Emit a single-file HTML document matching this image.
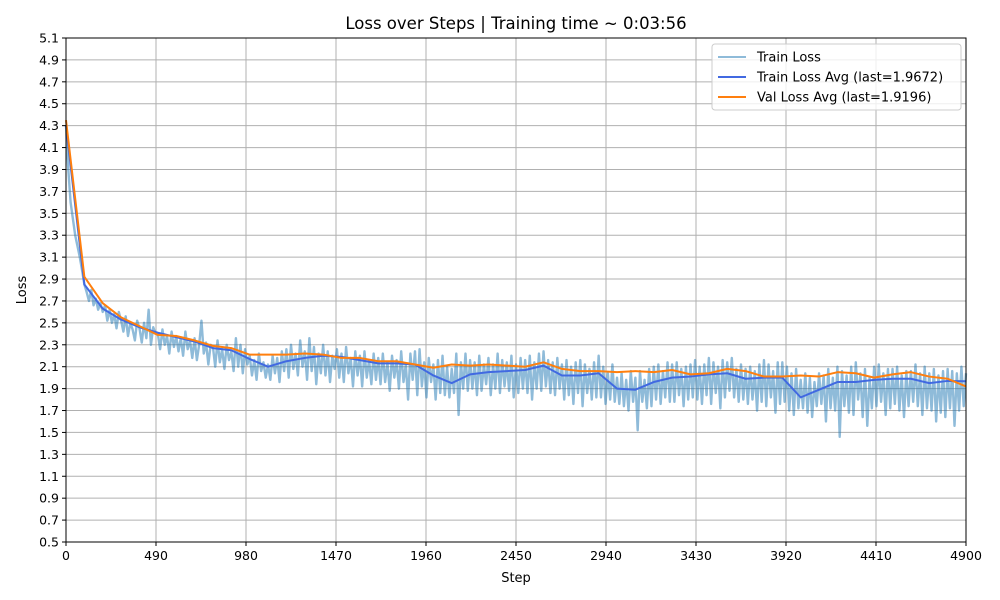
<!DOCTYPE html>
<html><head><meta charset="utf-8"><style>
body{margin:0;background:#fff;}
svg{display:block;font-family:"DejaVu Sans","Liberation Sans",sans-serif;}
</style></head><body>
<svg id="chart" width="1000" height="600" viewBox="0 0 1000 600">
<rect width="1000" height="600" fill="#fff"/>
<text x="516" y="29" font-size="16.5" text-anchor="middle">Loss over Steps | Training time ~ 0:03:56</text>
<g id="grid"></g><g id="series"></g><g id="axes"></g>
<text x="516" y="582" font-size="13" text-anchor="middle">Step</text>
<text x="26" y="290" font-size="13" text-anchor="middle" transform="rotate(-90 26 290)">Loss</text>
<g>
<rect x="712" y="44" width="249" height="66" rx="3" fill="#fff" fill-opacity="0.8" stroke="#ccc"/>
<g><line x1="718" y1="57" x2="746" y2="57" stroke="#1f77b4" stroke-opacity="0.5" stroke-width="2"/><text x="757" y="61.5" font-size="13">Train Loss</text></g>
<g><line x1="718" y1="77" x2="746" y2="77" stroke="#4169e1" stroke-width="2"/><text x="757" y="81.5" font-size="13">Train Loss Avg (last=1.9672)</text></g>
<g><line x1="718" y1="97" x2="746" y2="97" stroke="#ff7f0e" stroke-width="2"/><text x="757" y="101.5" font-size="13">Val Loss Avg (last=1.9196)</text></g>
</g>
</svg>
<script>
const trainStep = 12.5;
const trainLoss = [4.30,3.90,3.60,3.45,3.30,3.20,3.10,2.98,
2.85,2.78,2.70,2.80,2.66,2.72,2.62,2.68,
2.60,2.66,2.52,2.62,2.50,2.58,2.45,2.60,
2.52,2.42,2.56,2.38,2.50,2.44,2.34,2.52,
2.45,2.32,2.50,2.36,2.62,2.30,2.46,2.40,
2.40,2.26,2.44,2.30,2.38,2.22,2.42,2.28,
2.38,2.24,2.36,2.20,2.42,2.26,2.34,2.18,
2.36,2.16,2.30,2.52,2.22,2.32,2.12,2.30,
2.28,2.10,2.34,2.14,2.26,2.08,2.30,2.16,
2.24,2.06,2.36,2.10,2.30,2.04,2.26,2.12,
2.20,2.02,2.16,1.98,2.22,2.06,2.14,2.00,
2.12,1.98,2.20,2.04,2.18,1.96,2.24,2.06,
2.26,2.00,2.30,2.08,2.22,2.02,2.34,2.10,
2.24,1.98,2.36,2.06,2.28,1.94,2.22,2.04,
2.30,2.02,2.24,1.96,2.20,2.08,2.26,2.00,
2.22,1.96,2.28,2.04,2.18,1.92,2.24,2.02,
2.20,1.92,2.24,2.00,2.16,1.94,2.22,1.98,
2.18,1.94,2.22,1.96,2.14,1.88,2.20,2.00,
2.16,1.90,2.24,1.96,2.12,1.80,2.22,1.98,
2.24,1.84,2.26,1.92,2.14,1.82,2.18,1.96,
2.12,1.80,2.16,1.86,2.20,1.84,2.10,1.82,
2.08,1.86,2.22,1.66,2.14,1.90,2.22,1.88,
2.16,1.90,2.14,1.84,2.20,1.88,2.12,1.94,
2.18,1.84,2.12,1.90,2.22,1.86,2.16,1.92,
2.14,1.88,2.20,1.82,2.12,1.86,2.18,1.90,
2.16,1.86,2.20,1.80,2.14,1.90,2.22,1.88,
2.24,1.92,2.16,1.86,2.14,1.84,2.18,1.90,
2.12,1.80,2.16,1.84,2.10,1.76,2.14,1.86,
2.16,1.74,2.12,1.86,2.08,1.80,2.14,1.82,
2.20,1.82,2.10,1.76,2.04,1.80,2.12,1.78,
2.00,1.76,2.04,1.74,1.98,1.70,2.06,1.78,
2.00,1.52,2.06,1.78,1.98,1.72,2.08,1.74,
2.10,1.80,2.12,1.76,2.06,1.82,2.14,1.78,
2.12,1.78,2.14,1.84,2.08,1.74,2.10,1.80,
2.12,1.82,2.16,1.80,2.10,1.76,2.12,1.84,
2.18,1.76,2.14,1.86,2.10,1.72,2.16,1.82,
2.14,1.88,2.18,1.82,2.08,1.78,2.12,1.80,
2.08,1.76,2.10,1.80,2.06,1.70,2.12,1.78,
2.16,1.74,2.12,1.82,2.06,1.68,2.14,1.76,
2.14,1.78,2.10,1.70,2.04,1.66,2.08,1.72,
1.98,1.72,2.04,1.68,2.00,1.64,1.96,1.74,
2.04,1.76,2.02,1.60,2.08,1.72,2.00,1.70,
2.10,1.46,2.06,1.74,2.02,1.68,2.10,1.66,
2.14,1.80,2.04,1.64,2.08,1.56,2.00,1.72,
2.10,1.74,2.12,1.78,2.04,1.66,2.08,1.72,
2.08,1.76,2.10,1.70,2.02,1.64,2.06,1.74,
2.06,1.78,2.12,1.74,2.04,1.66,2.10,1.72,
2.04,1.70,2.08,1.60,2.02,1.68,2.06,1.64,
2.08,1.72,2.06,1.56,2.04,1.70,2.10,1.74,
2.04];
const avgStep = 100;
const trainAvg = [4.30,2.85,2.63,2.53,2.46,2.41,2.37,2.33,2.27,2.25,2.17,2.10,2.15,2.18,2.20,2.19,2.16,2.13,2.13,2.12,2.02,1.95,2.03,2.05,2.06,2.07,2.11,2.02,2.02,2.04,1.90,1.89,1.96,2.00,2.01,2.03,2.04,1.99,2.00,2.00,1.82,1.89,1.96,1.96,1.98,1.99,1.99,1.95,1.97,1.9672];
const valAvg = [4.35,2.92,2.68,2.55,2.47,2.39,2.38,2.34,2.29,2.27,2.21,2.21,2.21,2.22,2.21,2.18,2.18,2.15,2.15,2.12,2.09,2.12,2.11,2.12,2.11,2.10,2.14,2.08,2.06,2.06,2.05,2.06,2.05,2.07,2.03,2.04,2.08,2.06,2.01,2.01,2.02,2.01,2.05,2.04,2.00,2.03,2.05,2.01,1.99,1.9196];
const xTicks = [0,490,980,1470,1960,2450,2940,3430,3920,4410,4900];
const yTicks = [0.5,0.7,0.9,1.1,1.3,1.5,1.7,1.9,2.1,2.3,2.5,2.7,2.9,3.1,3.3,3.5,3.7,3.9,4.1,4.3,4.5,4.7,4.9,5.1];

const L=66,R=966,T=38,B=542,XMAX=4900,YMIN=0.5,YMAX=5.1;
const xS=v=>L+(v/XMAX)*(R-L);
const yS=v=>B-(v-YMIN)/(YMAX-YMIN)*(B-T);
const NS='http://www.w3.org/2000/svg';
function mk(tag,attrs,parent){const e=document.createElementNS(NS,tag);for(const k in attrs)e.setAttribute(k,attrs[k]);parent.appendChild(e);return e;}
const grid=document.getElementById('grid'),series=document.getElementById('series'),axes=document.getElementById('axes');
xTicks.forEach(t=>{
  const g=mk('line',{x1:xS(t),x2:xS(t),y1:T,y2:B,stroke:'#b0b0b0','stroke-width':1},grid);
  
  
  mk('line',{x1:xS(t),x2:xS(t),y1:B,y2:B+4,stroke:'#000'},axes);
  const tx=mk('text',{x:xS(t),y:B+18,'font-size':12.5,'text-anchor':'middle'},axes);
  tx.textContent=t;
  
  
});
yTicks.forEach(t=>{
  const g=mk('line',{x1:L,x2:R,y1:yS(t),y2:yS(t),stroke:'#b0b0b0','stroke-width':1},grid);
  
  
  mk('line',{x1:L-4,x2:L,y1:yS(t),y2:yS(t),stroke:'#000'},axes);
  const tx=mk('text',{x:L-7,y:yS(t)+4.5,'font-size':12.5,'text-anchor':'end'},axes);
  tx.textContent=t.toFixed(1);
  
  
});
const frame=mk('rect',{x:L,y:T,width:R-L,height:B-T,fill:'none',stroke:'#000','stroke-width':1},axes);


function path(vals,step,color,op,w,name){
  const d=vals.map((v,i)=>(i?'L':'M')+xS(Math.min(i*step,XMAX)).toFixed(2)+','+yS(v).toFixed(2)).join('');
  const p=mk('path',{d:d,fill:'none',stroke:color,'stroke-opacity':op,'stroke-width':w,'stroke-linejoin':'round'},series);
  
  
}
path(trainLoss,trainStep,'#1f77b4',0.5,2.4,'train-loss-line');
path(trainAvg,avgStep,'#4169e1',1,2,'train-loss-avg-line');
path(valAvg,avgStep,'#ff7f0e',1,2,'val-loss-avg-line');
</script>
</body></html>
